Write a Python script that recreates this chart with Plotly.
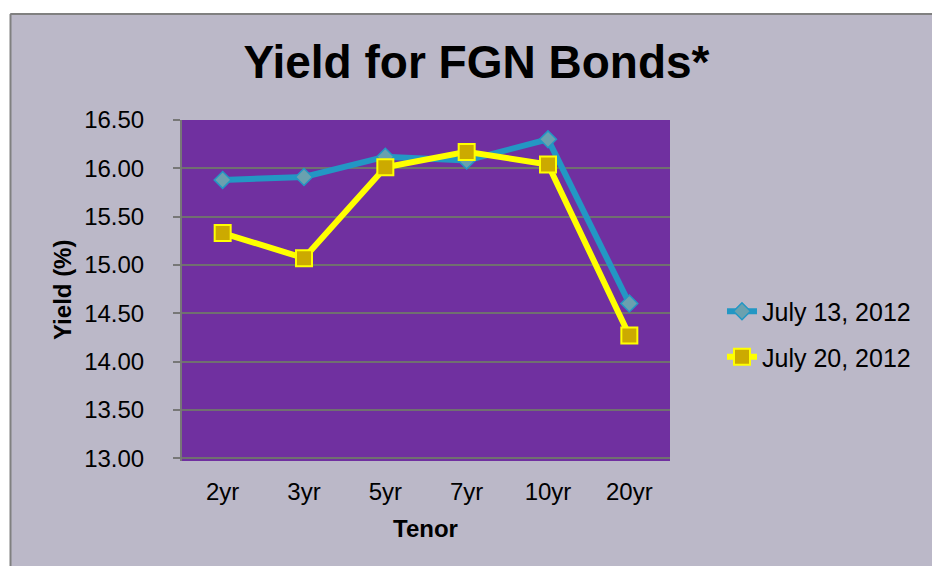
import plotly.graph_objects as go

# ---- data ----
tenors = ["2yr", "3yr", "5yr", "7yr", "10yr", "20yr"]
july13 = [15.88, 15.91, 16.12, 16.08, 16.30, 14.60]
july20 = [15.33, 15.07, 16.01, 16.17, 16.04, 14.27]
series_names = ["July 13, 2012", "July 20, 2012"]
y_ticks = [13.00, 13.50, 14.00, 14.50, 15.00, 15.50, 16.00, 16.50]
y_ticktext = [f"{v:.2f}" for v in y_ticks]

W, H = 932, 566
L, R, T, B = 182, 670, 120, 461  # plot area in pixels

def px_x(px):
    return (px - L) / (R - L)

def px_y(py):
    return (B - py) / (B - T)

FONT = "Liberation Sans, Arial, sans-serif"
BG = "#BBB8C8"

fig = go.Figure()
fig.add_trace(go.Scatter(
    x=tenors, y=july13, name=series_names[0], mode="lines+markers",
    legendgroup="a",
    line=dict(color="#2397C4", width=6),
    marker=dict(symbol="diamond", size=13, color="#6AA1AF",
                line=dict(color="#2397C4", width=1.5)),
))
fig.add_trace(go.Scatter(
    x=tenors, y=july20, name=series_names[1], mode="lines+markers",
    legendgroup="b",
    line=dict(color="#FFFF00", width=6),
    marker=dict(symbol="square", size=16, color="#CCAA00",
                line=dict(color="#FFFF00", width=2)),
))

fig.update_layout(
    width=W, height=H,
    margin=dict(l=L, r=W - R, t=T, b=H - B, pad=0),
    paper_bgcolor=BG,
    plot_bgcolor="#7030A0",
    font=dict(family=FONT, size=24, color="#000000"),
    title=dict(text="<b>Yield for FGN Bonds*</b>", x=476.5 / W, xanchor="center",
               y=1 - 62 / H, yanchor="middle", yref="container",
               font=dict(family=FONT, size=46, color="#000000")),
    showlegend=True,
    legend=dict(x=722 / W, xref="container", xanchor="left",
                y=1 - 334 / H, yref="container", yanchor="middle",
                bgcolor="rgba(0,0,0,0)", font=dict(family=FONT, size=25, color="#000000"),
                tracegroupgap=10, traceorder="grouped"),
    xaxis=dict(range=[-0.5, 5.5], showgrid=False, zeroline=False, showline=False,
               ticks="", ticklabelstandoff=14, tickfont=dict(size=24)),
    yaxis=dict(range=[12.97, 16.5], tickvals=y_ticks, ticktext=y_ticktext,
               showgrid=True, gridcolor="#707070", gridwidth=1.5, zeroline=False,
               showline=True, linecolor="#777777", linewidth=2,
               ticks="outside", ticklen=7, tickcolor="#777777", tickwidth=1.5,
               ticklabelstandoff=24, tickfont=dict(size=24)),
    annotations=[
        dict(text="<b>Yield (%)</b>", textangle=-90, xref="paper", yref="paper",
             x=px_x(62), y=px_y(290), xanchor="center", yanchor="middle",
             showarrow=False, font=dict(family=FONT, size=24, color="#000000")),
        dict(text="<b>Tenor</b>", xref="paper", yref="paper",
             x=px_x(425.5), y=px_y(528), xanchor="center", yanchor="middle",
             showarrow=False, font=dict(family=FONT, size=24, color="#000000")),
    ],
    shapes=[
        dict(type="rect", xref="paper", yref="paper", x0=px_x(0), x1=px_x(10),
             y0=px_y(H + 5), y1=px_y(-5), fillcolor="#FFFFFF", line=dict(width=0),
             layer="below"),
        dict(type="rect", xref="paper", yref="paper", x0=px_x(0), x1=px_x(W + 5),
             y0=px_y(13), y1=px_y(-5), fillcolor="#FFFFFF", line=dict(width=0),
             layer="below"),
        dict(type="line", xref="paper", yref="paper", x0=px_x(10.5), x1=px_x(W + 5),
             y0=px_y(14), y1=px_y(14), line=dict(color="#808080", width=2)),
        dict(type="line", xref="paper", yref="paper", x0=px_x(10.5), x1=px_x(10.5),
             y0=px_y(14), y1=px_y(H + 5), line=dict(color="#808080", width=2)),
    ],
)

fig.write_html(
    "out.html",
    config={"displayModeBar": False},
    post_script="document.body.style.margin='0';document.body.style.overflow='hidden';",
)
